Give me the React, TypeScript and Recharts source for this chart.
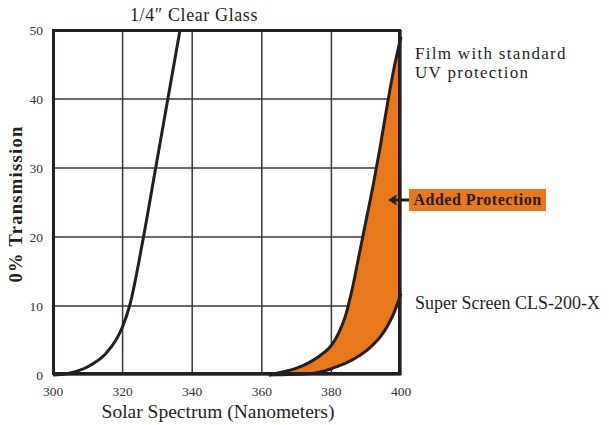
import { Area, CartesianGrid, ComposedChart, Line, XAxis, YAxis } from "recharts";

const orange = "#e8781a";
const ink = "#231f20";
const serif = "'Liberation Serif', 'Times New Roman', serif";

// 1/4" clear glass
const glassNm = [300, 305, 310, 315, 318, 320, 322, 326, 329.5, 333, 336.5];
const glassPct = [0, 0.3, 1.2, 3, 5, 7, 10, 20, 30, 40, 50];

// film with standard UV protection (upper) and Super Screen CLS-200-X (lower)
const filmNm = [362, 366, 370, 374, 378, 380, 382, 384, 386, 388, 390, 392, 394, 396, 398, 400];
const standardPct = [0, 0.45, 1.0, 1.9, 3.3, 4.3, 6.0, 8.5, 12.5, 17.5, 22.5, 27.5, 33, 39, 44.5, 49];
const superPct = [0, 0.05, 0.1, 0.2, 0.6, 0.9, 1.3, 1.7, 2.2, 2.8, 3.5, 4.4, 5.5, 7.0, 9.0, 11.8];

const xTicks = [300, 320, 340, 360, 380, 400];
const yTicks = [0, 10, 20, 30, 40, 50];

const glassData = glassNm.map((nm, i) => ({ nm, glass: glassPct[i] }));
const filmData = filmNm.map((nm, i) => ({
  nm,
  standard: standardPct[i],
  superScreen: superPct[i],
  band: [superPct[i], standardPct[i]],
}));

const noteStyle = {
  position: "absolute" as const,
  left: 415,
  fontSize: 18,
  lineHeight: "18px",
  color: ink,
  whiteSpace: "nowrap" as const,
};

export default function App() {
  return (
    <div style={{ position: "absolute", left: 0, top: 0, width: 609, height: 425, background: "#fff", fontFamily: serif }}>
      <ComposedChart width={609} height={425} margin={{ top: 30, right: 208, bottom: 20, left: 13 }}>
        <CartesianGrid stroke="#3a3637" strokeWidth={1.5} horizontal vertical />
        <XAxis
          type="number"
          dataKey="nm"
          domain={[300, 400]}
          ticks={xTicks}
          allowDuplicatedCategory={false}
          tick={{ fontSize: 13.5, fill: "#333", fontFamily: serif }}
          tickLine={false}
          axisLine={false}
          height={30}
          tickMargin={5}
        />
        <YAxis
          type="number"
          domain={[0, 50]}
          ticks={yTicks}
          tick={{ fontSize: 13.5, fill: "#333", fontFamily: serif }}
          tickLine={false}
          axisLine={false}
          width={40}
          tickMargin={4}
        />
        <Area
          data={filmData}
          dataKey="band"
          type="monotone"
          fill={orange}
          fillOpacity={1}
          stroke="none"
          isAnimationActive={false}
        />
        <Line data={glassData} dataKey="glass" type="monotone" stroke={ink} strokeWidth={3} dot={false} isAnimationActive={false} />
        <Line data={filmData} dataKey="standard" type="monotone" stroke={ink} strokeWidth={3} dot={false} isAnimationActive={false} />
        <Line data={filmData} dataKey="superScreen" type="monotone" stroke={ink} strokeWidth={3} dot={false} isAnimationActive={false} />
      </ComposedChart>

      {/* plot frame */}
      <div style={{ position: "absolute", left: 52, top: 29, width: 349, height: 346, border: `3px solid ${ink}`, boxSizing: "border-box", pointerEvents: "none" }} />

      <div style={{ position: "absolute", left: 0, width: 388, top: 5, textAlign: "center", fontSize: 18, letterSpacing: 0.6, color: ink }}>
        1/4″ Clear Glass
      </div>
      <div style={{ position: "absolute", left: 53, width: 330, top: 401, textAlign: "center", fontSize: 19.5, color: ink }}>
        Solar Spectrum (Nanometers)
      </div>
      <div
        style={{
          position: "absolute",
          left: 16,
          top: 204,
          transform: "translate(-50%, -50%) rotate(-90deg)",
          whiteSpace: "nowrap",
          fontSize: 18.5,
          letterSpacing: 1.3,
          fontWeight: "bold",
          color: ink,
        }}
      >
        0% Transmission
      </div>
      <div style={{ ...noteStyle, top: 45, fontSize: 17, letterSpacing: 1.3 }}>Film with standard</div>
      <div style={{ ...noteStyle, top: 64, fontSize: 17, letterSpacing: 1.3 }}>UV protection</div>
      <div style={{ ...noteStyle, top: 294 }}>Super Screen CLS-200-X</div>
      <div
        style={{
          position: "absolute",
          left: 409,
          top: 189,
          width: 137,
          height: 22,
          background: orange,
          color: ink,
          fontSize: 16,
          letterSpacing: 0.5,
          fontWeight: "bold",
          lineHeight: "22px",
          textAlign: "center",
          whiteSpace: "nowrap",
        }}
      >
        Added Protection
      </div>
      <svg style={{ position: "absolute", left: 380, top: 190, overflow: "visible" }} width={30} height={20}>
        <line x1={12} y1={10} x2={29} y2={10} stroke={ink} strokeWidth={3} />
        <polygon points="8,10 17,4.5 15,10 17,15.5" fill={ink} />
      </svg>
    </div>
  );
}
